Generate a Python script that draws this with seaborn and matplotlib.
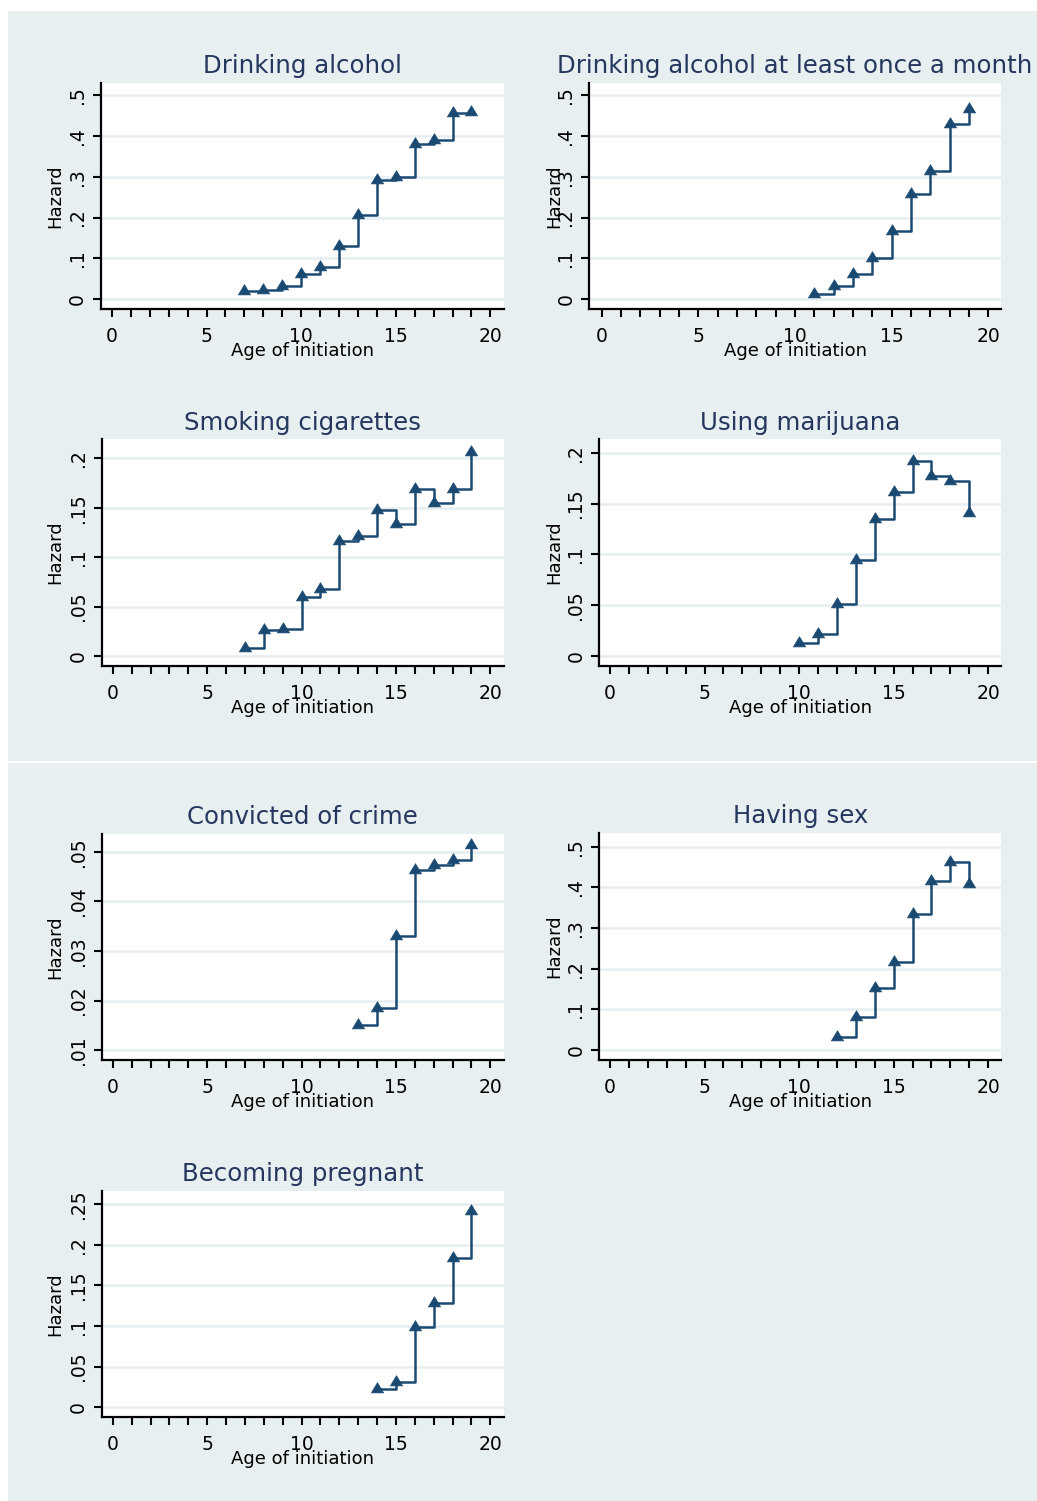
import matplotlib
matplotlib.use("Agg")
import matplotlib.pyplot as plt
from matplotlib.path import Path
from matplotlib.patches import Rectangle
from matplotlib.lines import Line2D
import pandas as pd
import seaborn as sns

# ---- hazard of first initiation by age of initiation ----
alcohol_age = [7, 8, 9, 10, 11, 12, 13, 14, 15, 16, 17, 18, 19]
alcohol_hazard = [0.020, 0.022, 0.032, 0.062, 0.080, 0.130, 0.206, 0.293, 0.300,
                  0.380, 0.390, 0.455, 0.458]

monthly_age = [11, 12, 13, 14, 15, 16, 17, 18, 19]
monthly_hazard = [0.012, 0.032, 0.063, 0.102, 0.167, 0.257, 0.313, 0.428, 0.466]

smoking_age = [7, 8, 9, 10, 11, 12, 13, 14, 15, 16, 17, 18, 19]
smoking_hazard = [0.008, 0.026, 0.027, 0.060, 0.068, 0.116, 0.121, 0.148, 0.134,
                  0.169, 0.155, 0.169, 0.206]

marijuana_age = [10, 11, 12, 13, 14, 15, 16, 17, 18, 19]
marijuana_hazard = [0.0125, 0.022, 0.051, 0.094, 0.135, 0.161, 0.192, 0.177, 0.172, 0.141]

crime_age = [13, 14, 15, 16, 17, 18, 19]
crime_hazard = [0.0150, 0.0184, 0.0331, 0.0463, 0.0473, 0.0483, 0.0514]

sex_age = [12, 13, 14, 15, 16, 17, 18, 19]
sex_hazard = [0.031, 0.082, 0.152, 0.217, 0.334, 0.416, 0.463, 0.408]

pregnancy_age = [14, 15, 16, 17, 18, 19]
pregnancy_hazard = [0.022, 0.0316, 0.099, 0.128, 0.184, 0.242]

titles = ["Drinking alcohol", "Drinking alcohol at least once a month",
          "Smoking cigarettes", "Using marijuana",
          "Convicted of crime", "Having sex", "Becoming pregnant"]
series = [(alcohol_age, alcohol_hazard), (monthly_age, monthly_hazard),
          (smoking_age, smoking_hazard), (marijuana_age, marijuana_hazard),
          (crime_age, crime_hazard), (sex_age, sex_hazard),
          (pregnancy_age, pregnancy_hazard)]
y_ticks = [[0, .1, .2, .3, .4, .5], [0, .1, .2, .3, .4, .5],
           [0, .05, .1, .15, .2], [0, .05, .1, .15, .2],
           [.01, .02, .03, .04, .05], [0, .1, .2, .3, .4, .5],
           [0, .05, .1, .15, .2, .25]]
x_ticks = list(range(0, 21))

# ---- styling ----
W, H = 1037, 1501
BG = "#e8eff1"
GRID = "#e6eef1"
NAVY = "#1a4a72"
TITLE = "#26375f"

# plot-region boxes in pixels: left, right, top, bottom
boxes = [(101, 504, 83, 309), (589.3, 1001, 83, 309),
         (102, 503.5, 439.3, 666), (599.3, 1001, 439.3, 666),
         (102, 503.5, 834, 1060), (599.3, 1001, 832.7, 1060),
         (102, 503.5, 1190.7, 1417.3)]
xlims = [(-0.58, 20.72), (-0.64, 20.66), (-0.57, 20.7), (-0.57, 20.68),
         (-0.57, 20.7), (-0.57, 20.68), (-0.57, 20.7)]
ylims = [(-0.0237, 0.529), (-0.0237, 0.529), (-0.0101, 0.2192), (-0.0098, 0.2132),
         (0.0080, 0.0536), (-0.0246, 0.5344), (-0.0123, 0.2664)]
ylabel_px = [55.5, 554.5, 55.5, 554, 55.5, 554, 55.5]

# triangle marker centred on its centroid
tri = Path([(0, 0.667), (-0.6, -0.333), (0.6, -0.333), (0, 0.667)],
           [Path.MOVETO, Path.LINETO, Path.LINETO, Path.CLOSEPOLY])


def stata_fmt(v):
    if v == 0:
        return "0"
    s = f"{v:g}"
    return s[1:] if s.startswith("0.") else s


plt.rcParams["font.family"] = ["DejaVu Sans"]
fig = plt.figure(figsize=(W / 100, H / 100), dpi=100, facecolor="white")
fig.add_artist(Rectangle((8 / W, 0), (W - 8) / W, (H - 11) / H,
                         transform=fig.transFigure, facecolor=BG,
                         edgecolor="none", zorder=0))
fig.add_artist(Line2D([8 / W, 1], [1 - 761.5 / H] * 2, transform=fig.transFigure,
                      color="white", lw=1.3, zorder=1))

for i, (title, (ages, hz)) in enumerate(zip(titles, series)):
    L, R, T, B = boxes[i]
    ax = fig.add_axes([L / W, 1 - B / H, (R - L) / W, (B - T) / H])
    ax.set_facecolor("white")
    df = pd.DataFrame({"age": ages, "hazard": hz})
    sns.lineplot(data=df, x="age", y="hazard", ax=ax, errorbar=None,
                 drawstyle="steps-post", color=NAVY, lw=1.8,
                 marker=tri, markersize=9.8, markerfacecolor=NAVY,
                 markeredgecolor=NAVY, markeredgewidth=0.5, zorder=3)
    ax.set_xlim(*xlims[i])
    ax.set_ylim(*ylims[i])
    ax.set_xticks(x_ticks, labels=[str(t) if t % 5 == 0 else "" for t in x_ticks])
    ax.set_yticks(y_ticks[i], labels=[stata_fmt(v) for v in y_ticks[i]])
    for lbl in ax.get_yticklabels():
        lbl.set_rotation(90)
        lbl.set_va("center")
    ax.tick_params(axis="both", direction="out", length=5.5, width=1.5,
                   color="black", labelsize=13.5, labelcolor="black")
    ax.tick_params(axis="x", pad=7.5)
    ax.tick_params(axis="y", pad=4.5)
    ax.yaxis.grid(True, color=GRID, lw=1.8)
    ax.xaxis.grid(False)
    ax.set_axisbelow(True)
    for side in ("top", "right"):
        ax.spines[side].set_visible(False)
    for side in ("left", "bottom"):
        ax.spines[side].set_color("black")
        ax.spines[side].set_linewidth(1.6)
    ax.set_title(title, fontsize=17.6, color=TITLE, pad=7)
    ax.set_xlabel("Age of initiation", fontsize=13, labelpad=-3)
    ax.set_ylabel("Hazard", fontsize=13)
    ax.yaxis.set_label_coords((ylabel_px[i] - L) / (R - L), 0.5)
    ax.yaxis.label.set_va("center")

fig.savefig("out.png", dpi=100, facecolor=fig.get_facecolor())
